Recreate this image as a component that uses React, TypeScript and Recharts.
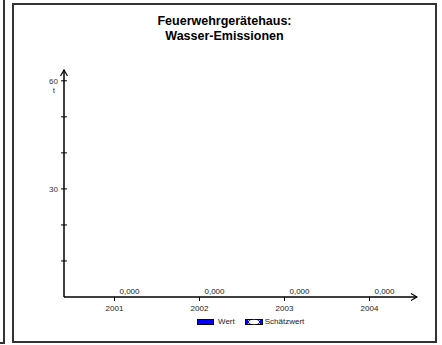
import { ComposedChart, Bar, Line, XAxis, YAxis } from 'recharts';

const years = ['2001', '2002', '2003', '2004'];
const wert = [0, 0, 0, 0];
const schaetzwert = [0, 0, 0, 0];
const yTicks = [0, 10, 20, 30, 40, 50, 60];
const yLabeled = [30, 60];

const data = years.map((year, i) => ({ year, wert: wert[i], schaetzwert: schaetzwert[i] }));

const FONT = 'Liberation Sans, Arial, sans-serif';

const fmt = (v: any) => Number(v).toFixed(3).replace('.', ',');

const YTick = (props: any) => {
  const { x, y, payload } = props;
  const v = payload.value;
  if (v === 0) return null;
  return (
    <g>
      <line x1={x - 3} x2={x + 3} y1={y} y2={y} stroke="#000" strokeWidth={1} />
      {yLabeled.includes(v) && (
        <text x={x - 6} y={y + 3} textAnchor="end" fontSize={8} fill="#333" fontFamily={FONT}>
          {v}
        </text>
      )}
      {v === 60 && (
        <text x={x - 9} y={y + 12} textAnchor="end" fontSize={8} fill="#333" fontFamily={FONT}>
          t
        </text>
      )}
    </g>
  );
};

// value label sits over the Schätzwert bar (right half of the category)
const ValueLabel = (props: any) => {
  const { x, y, value } = props;
  return (
    <text x={x + 15} y={y - 3} textAnchor="middle" fontSize={8} fill="#222" fontFamily={FONT}>
      {fmt(value)}
    </text>
  );
};

const LegendBox = () => (
  <div style={{ position: 'absolute', left: 197, top: 317, display: 'flex', alignItems: 'center', fontFamily: FONT, fontSize: 8, color: '#222' }}>
    <svg width={17} height={6} style={{ marginRight: 4 }}>
      <rect x={0.5} y={0.5} width={16} height={5} fill="#0000ff" stroke="#000" strokeWidth={1} />
    </svg>
    <span style={{ marginRight: 10 }}>Wert</span>
    <svg width={18} height={6} style={{ marginRight: 2 }}>
      <rect x={0.5} y={0.5} width={17} height={5} fill="#0000ff" stroke="#000" strokeWidth={1} />
      <ellipse cx={9} cy={3} rx={5} ry={2.2} fill="#fff" />
      <path d="M3,1 L7,5 M7,1 L3,5 M11,1 L15,5 M15,1 L11,5" stroke="#fff" strokeWidth={0.8} />
    </svg>
    <span>Schätzwert</span>
  </div>
);

export default function App() {
  return (
    <div style={{ position: 'absolute', left: 0, top: 0, width: 442, height: 345, background: '#fff' }}>
      <div style={{ position: 'absolute', left: -2, top: -2, width: 5, height: 344, borderRight: '2px solid #333', borderBottom: '2px solid #333' }} />
      <div style={{ position: 'absolute', left: 12, top: 3, width: 421, height: 336, border: '2px solid #333' }} />
      <div style={{ position: 'absolute', left: 13, width: 423, top: 14, textAlign: 'center', fontFamily: FONT, fontWeight: 'bold', fontSize: 12.5, lineHeight: '15px', color: '#000' }}>
        Feuerwehrgerätehaus:
        <br />
        Wasser-Emissionen
      </div>
      <div style={{ position: 'absolute', left: 0, top: 0 }}>
        <ComposedChart width={442} height={345} data={data} margin={{ top: 70, right: 25, bottom: 18, left: 0 }} barGap={2} barCategoryGap="30%">
          <defs>
            <marker id="arrowHead" viewBox="0 0 8 8" refX={7} refY={4} markerWidth={8} markerHeight={8} markerUnits="userSpaceOnUse" orient="auto-start-reverse">
              <path d="M1,0.5 L7,4 L1,7.5" fill="none" stroke="#000" strokeWidth={1.2} />
            </marker>
          </defs>
          <XAxis
            dataKey="year"
            height={30}
            axisLine={{ stroke: '#000', strokeWidth: 1.5, markerEnd: 'url(#arrowHead)' }}
            tickLine={{ stroke: '#000' }}
            tickSize={4}
            tickMargin={4}
            padding={{ left: 8, right: 5 }}
            tick={{ fontSize: 8, fill: '#222', fontFamily: FONT }}
          />
          <YAxis
            width={64}
            domain={[0, 63]}
            ticks={yTicks}
            interval={0}
            axisLine={{ stroke: '#000', strokeWidth: 1.5, markerStart: 'url(#arrowHead)' }}
            tickLine={false}
            tickSize={0}
            tickMargin={0}
            tick={<YTick />}
          />
          <Bar dataKey="wert" fill="#0000ff" isAnimationActive={false} />
          <Bar dataKey="schaetzwert" fill="#0000ff" isAnimationActive={false} />
          <Line
            dataKey="schaetzwert"
            stroke="none"
            dot={false}
            activeDot={false}
            legendType="none"
            isAnimationActive={false}
            label={<ValueLabel />}
          />
        </ComposedChart>
      </div>
      <LegendBox />
    </div>
  );
}
